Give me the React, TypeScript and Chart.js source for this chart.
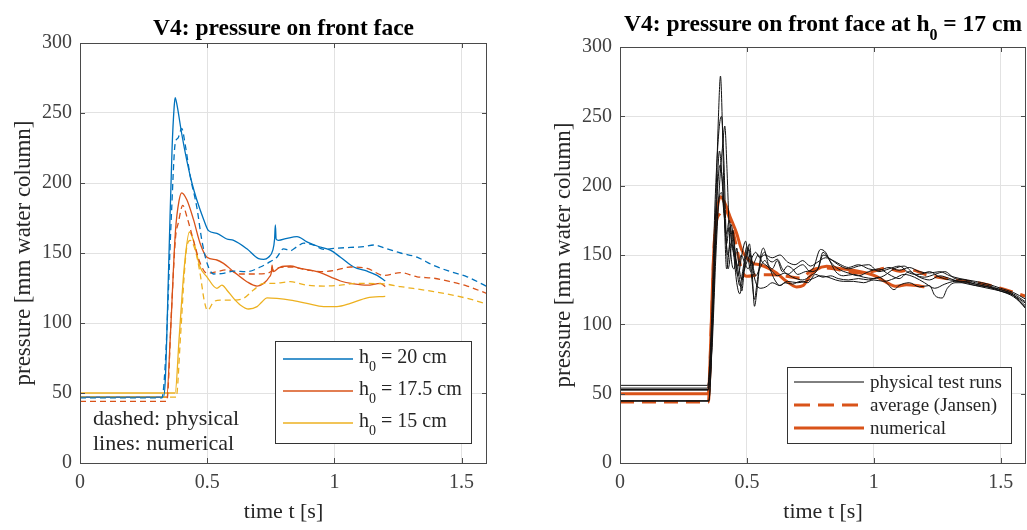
import React, { useEffect, useRef } from "react";
import { Chart, registerables } from "chart.js";
Chart.register(...registerables);

const FONT = '"Liberation Serif", "Times New Roman", serif';
const TEXT = "#262626";
const TICKTEXT = "#404040";
const GRID = "#e2e2e2";
const AXIS = "#4a4a4a";

const BLUE = "#0072BD";
const RED = "#D95319";
const YELLOW = "#EDB120";

const xTickValues = [0, 0.5, 1, 1.5];
const yTickValues = [0, 50, 100, 150, 200, 250, 300];

// ---------- left chart: time [s], pressure [mm] ----------
const h20Numerical = [[0,47],[0.328,47],[0.336,62],[0.35,150],[0.362,225],[0.37,254],[0.374,261],[0.38,257],[0.40,235],[0.42,216],[0.44,200],[0.459,188],[0.486,174],[0.505,166],[0.538,164],[0.577,160],[0.604,159],[0.656,153],[0.702,146],[0.722,145.5],[0.741,147],[0.758,152],[0.765,160],[0.768,170],[0.771,160],[0.78,159],[0.814,160.5],[0.853,161.7],[0.892,158],[0.932,155],[0.984,152],[1.024,147],[1.076,140],[1.129,137],[1.168,134],[1.2,130]];
const h20Physical = [[0,46.5],[0.322,46.5],[0.335,70],[0.36,180],[0.374,228],[0.385,232],[0.40,239],[0.413,228],[0.433,205],[0.459,183],[0.479,159],[0.499,143],[0.525,135],[0.564,135.5],[0.604,137],[0.656,136.7],[0.709,140],[0.748,143.8],[0.774,147],[0.8,153],[0.827,151.7],[0.853,154.5],[0.879,157],[0.919,155.7],[0.958,152.6],[0.997,153.3],[1.063,154],[1.115,154.5],[1.155,155.7],[1.207,153],[1.26,150],[1.325,147],[1.391,141],[1.457,136.7],[1.522,133],[1.6,126]];
const h175Numerical = [[0,47],[0.341,47],[0.355,90],[0.375,165],[0.39,188],[0.40,193],[0.42,188],[0.446,174],[0.472,157],[0.499,147],[0.538,145],[0.564,142.6],[0.604,136.7],[0.656,129.5],[0.696,126.4],[0.722,128.3],[0.745,133],[0.752,136],[0.755,141.4],[0.759,136.7],[0.787,140],[0.827,140.7],[0.866,139],[0.932,136.7],[0.984,133],[1.024,130],[1.076,128],[1.129,127],[1.181,128.3],[1.2,126]];
const h175Physical = [[0,44],[0.341,44],[0.36,110],[0.375,160],[0.387,172],[0.404,184],[0.42,176],[0.446,159],[0.472,143],[0.499,135.5],[0.538,136.7],[0.577,138],[0.63,135],[0.682,135],[0.735,135.5],[0.774,139],[0.827,140],[0.892,137.9],[0.945,136.7],[0.997,137.4],[1.063,140],[1.129,139],[1.194,134],[1.26,136],[1.325,133],[1.391,132],[1.457,129.5],[1.522,126.4],[1.6,121]];
const h15Numerical = [[0,50],[0.374,50],[0.39,90],[0.41,140],[0.43,165],[0.446,159],[0.472,140],[0.499,133],[0.538,124.8],[0.558,127],[0.577,123.6],[0.604,117.6],[0.63,112.9],[0.663,110],[0.696,111.7],[0.715,115],[0.735,118],[0.774,117.6],[0.827,116.4],[0.892,114],[0.958,111.7],[1.01,111.7],[1.063,114],[1.129,118],[1.2,119]];
const h15Physical = [[0,47],[0.378,47],[0.395,90],[0.41,135],[0.42,154.5],[0.433,159],[0.453,152],[0.472,135.5],[0.488,116.4],[0.501,109],[0.525,115],[0.551,116.4],[0.604,116.4],[0.643,117.6],[0.682,123.6],[0.722,128.3],[0.761,128.3],[0.827,129.5],[0.892,127],[0.958,126.4],[1.024,127],[1.089,128.3],[1.194,127.9],[1.26,126],[1.391,122.4],[1.522,117.6],[1.6,113.6]];

// ---------- right chart: h0 = 17 cm ----------
const run1 = [[0,56],[0.345,56],[0.36,90],[0.375,170],[0.388,250],[0.396,279],[0.404,240],[0.412,175],[0.42,140],[0.428,150],[0.438,172],[0.448,160],[0.46,140],[0.472,128],[0.485,140],[0.5,156],[0.51,150],[0.52,132],[0.53,118],[0.54,130],[0.555,147],[0.57,152],[0.585,143],[0.6,140],[0.62,146],[0.64,138],[0.66,142],[0.68,140],[0.7,136],[0.73,138],[0.76,140],[0.79,154],[0.81,152],[0.83,145],[0.86,140],[0.9,137],[0.94,135],[0.98,138],[1.02,140],[1.06,136],[1.1,133],[1.14,138],[1.18,134],[1.22,132],[1.26,135],[1.3,133],[1.35,130],[1.4,128],[1.45,127],[1.5,124],[1.55,121],[1.6,115]];
const run2 = [[0,54],[0.345,54],[0.36,100],[0.375,190],[0.39,240],[0.4,250],[0.41,215],[0.418,165],[0.426,140],[0.435,150],[0.445,168],[0.455,150],[0.468,136],[0.48,124],[0.49,140],[0.5,150],[0.51,158],[0.52,140],[0.53,113],[0.54,125],[0.555,150],[0.565,155],[0.58,148],[0.6,145],[0.62,147],[0.64,140],[0.66,136],[0.69,140],[0.72,143],[0.75,138],[0.78,140],[0.8,150],[0.83,147],[0.86,143],[0.9,140],[0.94,142],[0.98,143],[1.02,138],[1.06,140],[1.1,142],[1.14,137],[1.18,136],[1.22,138],[1.26,134],[1.3,132],[1.35,131],[1.4,129],[1.45,127],[1.5,125],[1.55,121],[1.6,111]];
const run3 = [[0,52.5],[0.348,52.5],[0.362,80],[0.378,150],[0.392,200],[0.405,230],[0.413,243],[0.422,210],[0.43,170],[0.44,145],[0.45,140],[0.46,155],[0.47,140],[0.48,132],[0.492,145],[0.505,155],[0.52,145],[0.535,135],[0.55,140],[0.57,146],[0.59,140],[0.61,132],[0.63,128],[0.65,130],[0.68,129],[0.71,131],[0.74,130],[0.77,136],[0.8,134],[0.83,135],[0.86,133],[0.9,132],[0.94,133],[0.98,132],[1.02,134],[1.05,130],[1.08,125],[1.1,128],[1.14,130],[1.18,127],[1.22,128],[1.24,121],[1.27,119],[1.29,126],[1.32,130],[1.36,130],[1.4,128],[1.45,126],[1.5,124],[1.55,121],[1.6,113]];
const run4 = [[0,45],[0.35,45],[0.365,100],[0.38,185],[0.392,225],[0.402,205],[0.41,180],[0.42,158],[0.43,170],[0.44,160],[0.452,148],[0.465,135],[0.48,150],[0.495,160],[0.505,148],[0.515,138],[0.53,145],[0.545,150],[0.56,145],[0.58,142],[0.6,138],[0.62,135],[0.65,137],[0.68,134],[0.72,132],[0.75,135],[0.78,140],[0.8,152],[0.82,148],[0.85,138],[0.88,135],[0.92,136],[0.96,134],[1.0,133],[1.04,135],[1.08,140],[1.12,142],[1.16,136],[1.2,134],[1.24,136],[1.28,138],[1.32,133],[1.36,132],[1.4,130],[1.45,128],[1.5,125],[1.55,122],[1.6,116]];
const run5 = [[0,44.5],[0.35,44.5],[0.367,110],[0.382,190],[0.395,215],[0.405,200],[0.415,170],[0.425,150],[0.435,158],[0.448,150],[0.46,130],[0.472,122],[0.485,135],[0.5,145],[0.515,150],[0.528,135],[0.54,128],[0.555,126],[0.575,127],[0.6,130],[0.63,128],[0.66,131],[0.7,130],[0.73,131],[0.76,133],[0.79,135],[0.82,134],[0.85,132],[0.88,131],[0.92,131],[0.96,130],[1.0,132],[1.04,131],[1.08,133],[1.12,136],[1.16,134],[1.2,130],[1.24,126],[1.28,129],[1.32,131],[1.36,131],[1.4,129],[1.45,127],[1.5,124],[1.55,120],[1.6,112]];
const run6 = [[0,53],[0.347,53],[0.362,95],[0.378,160],[0.39,190],[0.4,195],[0.41,180],[0.42,165],[0.43,175],[0.44,165],[0.452,150],[0.465,142],[0.478,150],[0.49,145],[0.505,140],[0.52,148],[0.535,152],[0.55,148],[0.57,150],[0.6,148],[0.63,150],[0.66,145],[0.69,143],[0.72,146],[0.75,142],[0.78,145],[0.81,148],[0.84,146],[0.87,143],[0.9,141],[0.94,143],[0.98,140],[1.02,139],[1.06,141],[1.1,139],[1.14,141],[1.18,138],[1.22,137],[1.26,138],[1.3,135],[1.34,133],[1.4,131],[1.45,129],[1.5,126],[1.55,123],[1.6,118]];
const averageJansen = [[0,44],[0.348,44],[0.36,100],[0.374,166],[0.394,180],[0.413,183],[0.433,175.5],[0.459,156],[0.479,139.4],[0.499,134.6],[0.551,135.8],[0.604,135.8],[0.656,134.6],[0.709,133.4],[0.761,139.4],[0.814,140.6],[0.892,138.2],[0.945,137],[0.997,138.2],[1.05,140.6],[1.102,138.2],[1.142,139.4],[1.207,135.8],[1.273,133.4],[1.339,131.7],[1.417,129.8],[1.496,126.2],[1.6,120.2]];
const numerical17 = [[0,50],[0.348,50],[0.358,90],[0.367,142],[0.38,178],[0.396,192],[0.413,187.5],[0.433,178],[0.459,166],[0.479,154],[0.499,148],[0.525,144],[0.551,143],[0.584,140.6],[0.617,137],[0.656,131],[0.696,127],[0.722,128],[0.748,134.6],[0.774,139.4],[0.814,141.8],[0.853,140.6],[0.919,139],[0.971,137],[1.01,134.6],[1.05,130.3],[1.089,127.4],[1.129,128.6],[1.168,128],[1.2,127]];

type Part = { text: string; sub?: boolean };

function drawParts(ctx: CanvasRenderingContext2D, parts: Part[], x: number, y: number, align: string, font: string, subFont: string, subDy: number, color: string) {
  let w = 0;
  const widths: number[] = [];
  parts.forEach((p) => {
    ctx.font = p.sub ? subFont : font;
    const m = ctx.measureText(p.text).width;
    widths.push(m);
    w += m;
  });
  let cx = align === "center" ? x - w / 2 : x;
  ctx.textAlign = "left";
  ctx.textBaseline = "alphabetic";
  ctx.fillStyle = color;
  parts.forEach((p, i) => {
    ctx.font = p.sub ? subFont : font;
    ctx.fillText(p.text, cx, y + (p.sub ? subDy : 0));
    cx += widths[i];
  });
}

function makePlugin(cfg: any) {
  return {
    id: "frame" + cfg.key,
    afterDatasetsDraw(chart: any) {
      const { ctx, chartArea: a } = chart;
      ctx.save();
      ctx.strokeStyle = AXIS;
      ctx.lineWidth = 1;
      ctx.strokeRect(Math.round(a.left) + 0.5, Math.round(a.top) + 0.5, Math.round(a.right - a.left) - 1, Math.round(a.bottom - a.top));
      const xs = chart.scales.x, ys = chart.scales.y;
      ctx.beginPath();
      xTickValues.forEach((v) => {
        const px = Math.round(xs.getPixelForValue(v)) + 0.5;
        ctx.moveTo(px, a.bottom); ctx.lineTo(px, a.bottom - 5);
        ctx.moveTo(px, a.top); ctx.lineTo(px, a.top + 5);
      });
      yTickValues.forEach((v) => {
        const py = Math.round(ys.getPixelForValue(v)) + 0.5;
        ctx.moveTo(a.left, py); ctx.lineTo(a.left + 5, py);
        ctx.moveTo(a.right, py); ctx.lineTo(a.right - 5, py);
      });
      ctx.stroke();
      ctx.restore();
    },
    afterDraw(chart: any) {
      const { ctx, chartArea: a } = chart;
      ctx.save();
      const cxm = (a.left + a.right) / 2;
      drawParts(ctx, cfg.title, cxm, cfg.titleY, "center", `bold 23.5px ${FONT}`, `bold 16px ${FONT}`, 9, "#000");
      // legend
      const L = cfg.legend;
      ctx.fillStyle = "#fff";
      ctx.fillRect(L.x, L.y, L.w, L.h);
      ctx.strokeStyle = "#333";
      ctx.lineWidth = 1;
      ctx.strokeRect(L.x + 0.5, L.y + 0.5, L.w, L.h);
      L.items.forEach((it: any) => {
        ctx.save();
        ctx.strokeStyle = it.color;
        ctx.lineWidth = it.width;
        ctx.setLineDash(it.dash || []);
        ctx.beginPath();
        ctx.moveTo(L.lineX0, it.y);
        ctx.lineTo(L.lineX1, it.y);
        ctx.stroke();
        ctx.restore();
        drawParts(ctx, it.parts, L.textX, it.y + L.textDy, "left", `${L.fontSize}px ${FONT}`, `14px ${FONT}`, 8, TEXT);
      });
      (cfg.notes || []).forEach((n: any) => {
        drawParts(ctx, [{ text: n.text }], n.x, n.y, "left", `22px ${FONT}`, `14px ${FONT}`, 0, TEXT);
      });
      ctx.restore();
    },
  };
}

function toXY(arr: number[][]) {
  return arr.map(([x, y]) => ({ x, y }));
}

function makeOptions(yWidth: number, padRight: number, padTop: number, yTitlePad: number) {
  return {
    responsive: false,
    maintainAspectRatio: false,
    animation: false,
    layout: { padding: { left: 0, right: padRight, top: padTop, bottom: 0 } },
    plugins: { legend: { display: false }, tooltip: { enabled: false }, title: { display: false } },
    elements: { point: { radius: 0 } },
    scales: {
      x: {
        type: "linear",
        min: 0,
        max: 1.6,
        afterFit: (s: any) => { s.height = 67; },
        afterBuildTicks: (s: any) => { s.ticks = xTickValues.map((v) => ({ value: v })); },
        ticks: { font: { family: FONT, size: 20 }, color: TICKTEXT, padding: 8, maxRotation: 0, callback: (v: any) => String(v) },
        grid: { color: GRID, drawTicks: false },
        border: { display: false },
        title: { display: true, text: "time t [s]", font: { family: FONT, size: 22 }, color: TEXT, padding: { top: 0, bottom: 5 } },
      },
      y: {
        type: "linear",
        min: 0,
        max: 300,
        afterFit: (s: any) => { s.width = yWidth; },
        afterBuildTicks: (s: any) => { s.ticks = yTickValues.map((v) => ({ value: v })); },
        ticks: { font: { family: FONT, size: 20 }, color: TICKTEXT, padding: 8, callback: (v: any) => String(v) },
        grid: { color: GRID, drawTicks: false },
        border: { display: false },
        title: { display: true, text: "pressure [mm water column]", font: { family: FONT, size: 23 }, color: TEXT, padding: { top: yTitlePad, bottom: 0 } },
      },
    },
  };
}

function line(data: number[][], color: string, width: number, dash?: number[]) {
  return {
    data: toXY(data),
    borderColor: color,
    borderWidth: width,
    borderDash: dash || [],
    fill: false,
    pointRadius: 0,
    cubicInterpolationMode: "monotone",
  };
}

function LeftChart() {
  const ref = useRef<HTMLCanvasElement>(null);
  useEffect(() => {
    const plugin = makePlugin({
      key: "L",
      title: [{ text: "V4: pressure on front face" }],
      titleY: 35,
      legend: {
        x: 275, y: 341, w: 196, h: 102, lineX0: 283, lineX1: 353, textX: 359, textDy: 4, fontSize: 20,
        items: [
          { y: 359, color: BLUE, width: 1.3, parts: [{ text: "h" }, { text: "0", sub: true }, { text: " = 20 cm" }] },
          { y: 391, color: RED, width: 1.3, parts: [{ text: "h" }, { text: "0", sub: true }, { text: " = 17.5 cm" }] },
          { y: 423, color: YELLOW, width: 1.3, parts: [{ text: "h" }, { text: "0", sub: true }, { text: " = 15 cm" }] },
        ],
      },
      notes: [
        { text: "dashed: physical", x: 93, y: 425 },
        { text: "lines: numerical", x: 93, y: 450 },
      ],
    });
    const chart = new Chart(ref.current as HTMLCanvasElement, {
      type: "line",
      data: {
        datasets: [
          line(h20Physical, BLUE, 1.3, [6, 4]),
          line(h175Physical, RED, 1.3, [6, 4]),
          line(h15Physical, YELLOW, 1.3, [6, 4]),
          line(h20Numerical, BLUE, 1.3),
          line(h175Numerical, RED, 1.3),
          line(h15Numerical, YELLOW, 1.3),
        ] as any,
      },
      options: makeOptions(80, 33, 43, 10) as any,
      plugins: [plugin as any],
    });
    return () => chart.destroy();
  }, []);
  return <canvas ref={ref} width={520} height={530} style={{ position: "absolute", left: 0, top: 0 }} />;
}

function RightChart() {
  const ref = useRef<HTMLCanvasElement>(null);
  useEffect(() => {
    const plugin = makePlugin({
      key: "R",
      title: [{ text: "V4: pressure on front face at h" }, { text: "0", sub: true }, { text: " = 17 cm" }],
      titleY: 31,
      legend: {
        x: 267, y: 367, w: 224, h: 76, lineX0: 274, lineX1: 344, textX: 350, textDy: 6, fontSize: 19,
        items: [
          { y: 382, color: "#000", width: 1, parts: [{ text: "physical test runs" }] },
          { y: 405, color: RED, width: 3, dash: [16, 8], parts: [{ text: "average (Jansen)" }] },
          { y: 428, color: RED, width: 3, parts: [{ text: "numerical" }] },
        ],
      },
    });
    const runs = [run1, run2, run3, run4, run5, run6].map((r) => line(r, "#111", 1));
    const chart = new Chart(ref.current as HTMLCanvasElement, {
      type: "line",
      data: {
        datasets: [
          ...runs,
          line(averageJansen, RED, 3, [14, 8]),
          line(numerical17, RED, 3),
        ] as any,
      },
      options: makeOptions(100, 1, 47, 30) as any,
      plugins: [plugin as any],
    });
    return () => chart.destroy();
  }, []);
  return <canvas ref={ref} width={507} height={530} style={{ position: "absolute", left: 520, top: 0 }} />;
}

export default function App() {
  return (
    <div style={{ position: "absolute", left: 0, top: 0, width: 1027, height: 530, background: "#fff", overflow: "hidden" }}>
      <LeftChart />
      <RightChart />
    </div>
  );
}
